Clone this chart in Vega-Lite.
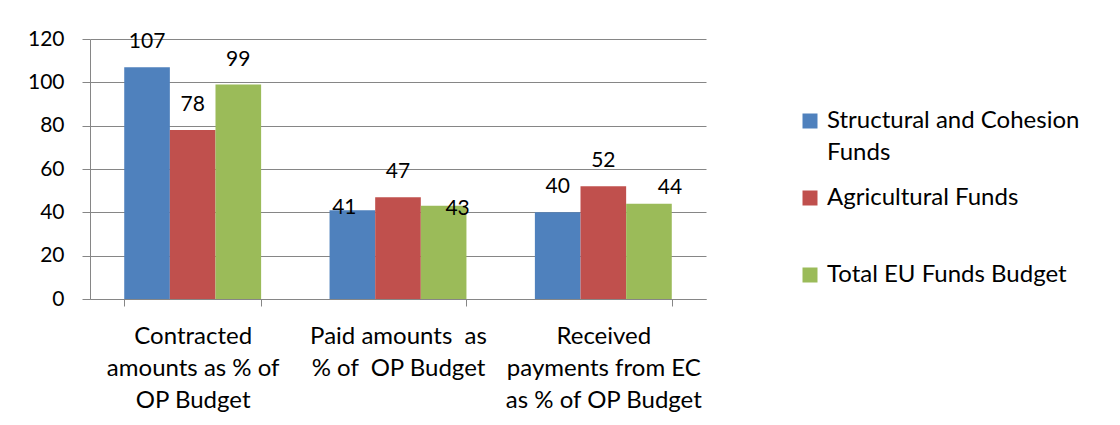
{
  "$schema": "https://vega.github.io/schema/vega-lite/v6.json",
  "width": 616,
  "height": 260,
  "autosize": "none",
  "padding": {"left": 90, "top": 39, "right": 414, "bottom": 126},
  "background": "white",
  "config": {"font": "Lato", "view": {"stroke": null}, "style": {"guide-label": {"lineHeight": 32}}},
  "data": {"values": [
    {"category": "Contracted amounts as % of OP Budget", "fund": "Structural and Cohesion Funds", "value": 107},
    {"category": "Contracted amounts as % of OP Budget", "fund": "Agricultural Funds", "value": 78},
    {"category": "Contracted amounts as % of OP Budget", "fund": "Total EU Funds Budget", "value": 99},
    {"category": "Paid amounts as % of OP Budget", "fund": "Structural and Cohesion Funds", "value": 41},
    {"category": "Paid amounts as % of OP Budget", "fund": "Agricultural Funds", "value": 47},
    {"category": "Paid amounts as % of OP Budget", "fund": "Total EU Funds Budget", "value": 43},
    {"category": "Received payments from EC as % of OP Budget", "fund": "Structural and Cohesion Funds", "value": 40},
    {"category": "Received payments from EC as % of OP Budget", "fund": "Agricultural Funds", "value": 52},
    {"category": "Received payments from EC as % of OP Budget", "fund": "Total EU Funds Budget", "value": 44}
  ]},
  "encoding": {
    "x": {
      "field": "category", "type": "nominal",
      "sort": ["Contracted amounts as % of OP Budget", "Paid amounts as % of OP Budget", "Received payments from EC as % of OP Budget"],
      "scale": {"paddingInner": 0.3333, "paddingOuter": 0.1667},
      "axis": {
        "title": null, "labelAngle": 0, "tickBand": "extent",
        "labelExpr": "datum.value == 'Contracted amounts as % of OP Budget' ? ['Contracted', 'amounts as % of', 'OP Budget'] : datum.value == 'Paid amounts as % of OP Budget' ? ['Paid amounts\u00a0 as', '% of\u00a0 OP Budget'] : datum.value == 'Received payments from EC as % of OP Budget' ? ['Received', 'payments from EC', 'as % of OP Budget'] : ''",
        "labelFontSize": 24, "labelLineHeight": 32, "labelColor": "black", "labelLimit": 400,
        "labelPadding": 18, "tickSize": 7, "tickColor": "#868686", "domainColor": "#868686"
      }
    },
    "xOffset": {
      "field": "fund", "type": "nominal",
      "sort": ["Structural and Cohesion Funds", "Agricultural Funds", "Total EU Funds Budget"],
      "scale": {"paddingInner": 0, "paddingOuter": 0}
    },
    "y": {
      "field": "value", "type": "quantitative",
      "scale": {"domain": [0, 120], "nice": false},
      "axis": {
        "title": null, "values": [0, 20, 40, 60, 80, 100, 120],
        "grid": true, "gridColor": "#868686", "domainColor": "#868686", "tickColor": "#868686",
        "tickSize": 8, "labelFontSize": 21, "labelColor": "black", "labelPadding": 18
      }
    }
  },
  "layer": [
    {
      "mark": {"type": "bar"},
      "encoding": {
        "color": {
          "field": "fund", "type": "nominal",
          "sort": ["Structural and Cohesion Funds", "Agricultural Funds", "Total EU Funds Budget"],
          "scale": {"range": ["#4F81BD", "#C0504D", "#9BBB59"]},
          "legend": {
            "title": null, "orient": "none", "legendX": 708, "legendY": 70,
            "symbolType": "square", "symbolSize": 225, "symbolStrokeWidth": 0,
            "labelFontSize": 24, "labelColor": "black", "labelLimit": 400, "labelOffset": 5,
            "rowPadding": 21,
            "labelExpr": "datum.label == 'Structural and Cohesion Funds' ? ['Structural and Cohesion', 'Funds'] : [datum.label, ' ']"
          }
        }
      }
    },
    {
      "transform": [{"filter": "datum.value != 41 && datum.value != 43 && datum.value != 44"}],
      "mark": {"type": "text", "dy": -25, "fontSize": 21, "color": "black", "baseline": "middle"},
      "encoding": {"text": {"field": "value", "type": "quantitative"}}
    },
    {
      "transform": [{"filter": "datum.value == 41"}],
      "mark": {"type": "text", "dx": -8, "dy": -2, "fontSize": 21, "color": "black", "baseline": "middle"},
      "encoding": {"text": {"field": "value", "type": "quantitative"}}
    },
    {
      "transform": [{"filter": "datum.value == 43"}],
      "mark": {"type": "text", "dx": 14, "dy": 3, "fontSize": 21, "color": "black", "baseline": "middle"},
      "encoding": {"text": {"field": "value", "type": "quantitative"}}
    },
    {
      "transform": [{"filter": "datum.value == 44"}],
      "mark": {"type": "text", "dx": 21, "dy": -16, "fontSize": 21, "color": "black", "baseline": "middle"},
      "encoding": {"text": {"field": "value", "type": "quantitative"}}
    }
  ]
}
